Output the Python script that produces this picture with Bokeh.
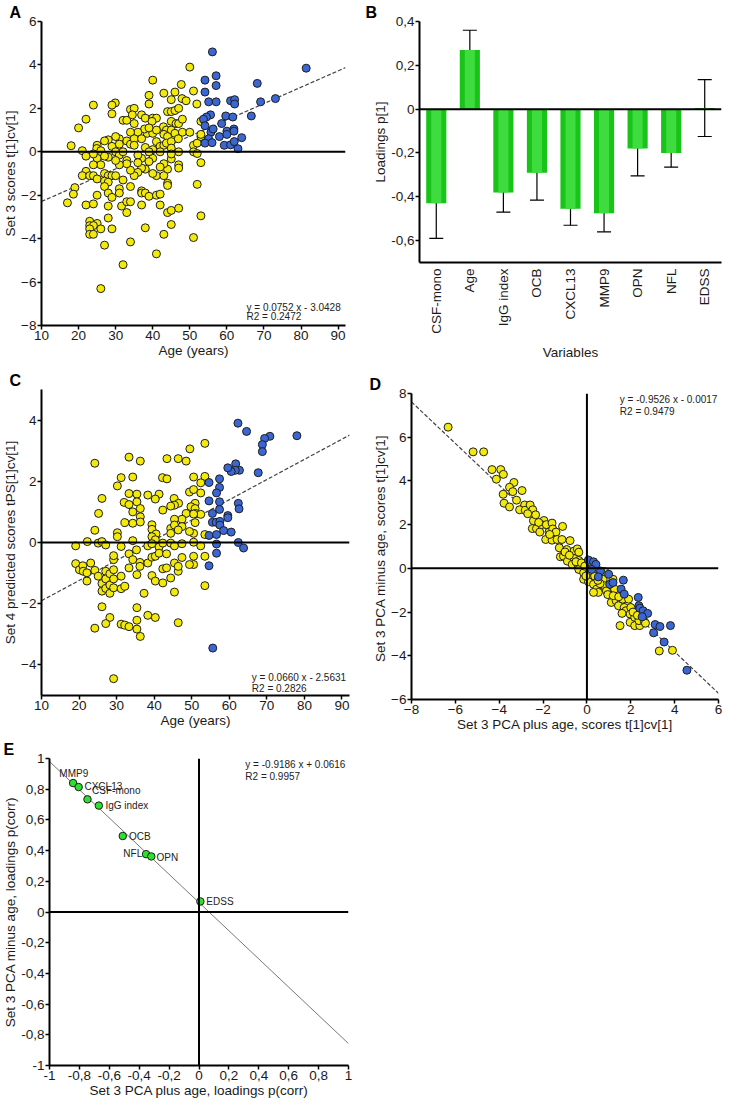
import math
from bokeh.plotting import figure
from bokeh.models import (Range1d, FixedTicker, CustomJSTickFormatter, Span, Label,
                          Whisker, TeeHead, ColumnDataSource)
from bokeh.layouts import column, row
from bokeh.embed import file_html
from bokeh.resources import INLINE

FONT = "Liberation Sans"
YELLOW = "#f3ea0c"
BLUE = "#3a67d3"
GREEN = "#19c419"
GREEN_HI = "#3fdc3f"
GREEN_PT = "#2ee02e"
EDGE = "#1e1e1e"

# ---------------- Panel A: age vs Set 3 scores ----------------
A_YELLOW = [
    (50, 3.9), (40, 3.3), (47.7, 3.1), (43, 2.7), (46, 2.75), (51, 2.8), (39, 2.6), (47.9, 2.45),
    (49, 2.35), (45, 2.4), (51.9, 2.2), (39, 2.2), (29.9, 2.25), (29, 2.15), (24, 2.15), (22, 1.5),
    (20, 1.1), (29, 1.75), (34, 1.95), (35, 2.0), (32, 1.45), (33, 1.45), (34.5, 1.7), (37, 1.7),
    (38, 1.55), (40, 1.55), (41, 1.55), (44, 1.85), (45, 1.85), (46, 1.9), (47, 2.0), (53, 1.4),
    (45, 1.4), (46.3, 1.3), (47, 1.3), (39.8, 1.4), (42.9, 1.15), (43.7, 1.0), (45, 1.0), (46, 0.85),
    (48, 0.9), (43, 0.8), (44, 0.7), (38.5, 0.85), (40, 0.85), (37.8, 1.05), (36, 0.9), (34, 0.9),
    (33, 0.5), (31, 0.6), (30, 0.7), (28, 0.55), (27, 0.5), (25, 0.3), (18, 0.28), (21, 0.05),
    (24.9, 0.15), (26, 0.05), (29, 0.25), (30, 0.0), (31, 0.35), (34, 0.35), (35, 0.6), (37, 0.6),
    (41, 0.47), (42, 0.25), (43, 0.3), (43.7, 0.4), (45, 0.47), (46.9, 0.6), (45, 0.17), (47, 0.0),
    (51, 0.3), (52, 0.4), (53, 0.7), (51, 0.0), (52, -0.08), (53, -0.5), (47, -0.6), (47, -0.75),
    (45, -0.33), (44, -0.8), (43, -0.55), (44, -1.45), (44, -1.55), (41, -1.1), (43, -1.1), (42, 0.0),
    (40, 0.1), (40, -0.3), (39, -0.45), (38, -0.8), (37, -0.75), (37, -0.3), (36, -0.15), (36, -0.95),
    (35, -1.1), (34, -0.85), (33, -0.4), (33, -0.55), (31, -0.15), (31, -0.6), (30, -0.4), (28, -0.25),
    (26, -0.2), (25, -0.3), (24, -0.1), (26, -0.6), (24, -0.6), (22, -0.2), (22, -0.9), (21, -1.1),
    (23, -1.1), (24, -1.1), (25, -1.25), (27, -1.0), (28, -1.1), (29, -1.1), (30, -1.1), (27, -1.35),
    (28, -1.4), (27, -1.6), (28, -1.9), (29, -2.1), (31, -1.7), (31, -1.9), (32, -1.3), (34, -1.6),
    (37, -1.8), (37, -1.9), (38, -1.9), (39, -2.05), (41, -2.0), (42, -1.95), (19, -1.65), (18.6, -1.95),
    (17, -2.35), (22, -2.45), (24, -2.4), (25, -2.0), (28, -2.5), (31.6, -2.5), (33, -2.3), (34, -2.3),
    (37, -2.45), (42, -2.45), (44, -2.8), (45, -2.7), (47, -2.6), (33, -2.8), (28, -3.05), (23, -3.2),
    (23, -3.4), (25, -3.3), (24, -3.4), (23, -3.55), (26, -3.55), (23, -3.8), (24, -3.8), (29, -3.55),
    (38, -3.5), (45, -3.35), (53, -2.95), (52, -1.5), (51, -3.95), (43, -3.8), (34, -4.15), (27, -4.3),
    (41, -4.7), (32, -5.2), (26, -6.3), (35, 0.3), (38, 0.2), (39, 0.0), (36, -0.5), (32, 0.0),
    (27, -0.2), (48, 1.5), (50, 0.9), (53, 0.8), (40, -1.0), (42, -0.7), (45, -0.1), (35, 1.3),
    (41, 1.0), (39, 1.1),
]
A_BLUE = [
    (56.1, 4.6), (54.1, 3.3), (57.1, 3.5), (57.1, 3.05), (54.1, 2.75), (55.1, 2.3), (57.1, 2.3), (61, 2.35),
    (62.1, 2.4), (62.1, 2.2), (68.2, 3.15), (69.1, 2.3), (73.1, 2.45), (81.4, 3.85), (66.6, 1.65),
    (59.7, 1.65), (55.6, 1.7), (54.5, 1.6), (53.7, 1.5), (54.1, 1.2), (58.6, 1.3), (61.6, 1.6),
    (55.7, 0.9), (56.3, 1.05), (60, 0.95), (61.9, 1.05), (61.9, 0.95), (58, 0.7), (55.1, 0.6),
    (54.1, 0.4), (56, 0.42), (59.3, 0.3), (61, 0.32), (62, 0.47), (64, 0.65), (63, 0.14), (60, 0.8),
]
A_FIT = (0.0752, -3.0428)
A_FIT_TEXT = ["y = 0.0752 x - 3.0428", "R2 = 0.2472"]

# ---------------- Panel B: loadings ----------------
B_VARS = ["CSF-mono", "Age", "IgG index", "OCB", "CXCL13", "MMP9", "OPN", "NFL", "EDSS"]
B_LOAD = [-0.43, 0.27, -0.38, -0.29, -0.455, -0.475, -0.18, -0.20, 0.005]
B_LOW = [-0.59, 0.18, -0.47, -0.415, -0.53, -0.56, -0.305, -0.265, -0.125]
B_HIGH = [-0.27, 0.36, -0.295, -0.165, -0.385, -0.395, -0.06, -0.135, 0.135]

# ---------------- Panel C: age vs Set 4 predicted scores ----------------
C_YELLOW = [
    (53.5, 3.24), (49.5, 3.06), (33.3, 2.79), (36.3, 2.66), (43.4, 2.74), (46.4, 2.74), (48.5, 2.66),
    (24.2, 2.59), (31.2, 2.12), (34.3, 2.14), (42.2, 2.12), (43.4, 2.08), (50.5, 2.14), (53.5, 2.16),
    (30.2, 1.85), (52.4, 1.95), (33.3, 1.6), (35.4, 1.58), (38.3, 1.55), (41.3, 1.58), (40.3, 1.42),
    (26.1, 1.44), (49.4, 1.65), (50.5, 1.73), (52.4, 1.62), (45.3, 1.44), (32.0, 1.31), (33.3, 1.24),
    (35.4, 1.33), (46.5, 1.28), (45.4, 1.22), (44.4, 1.19), (50.9, 1.28), (49.8, 1.17), (50.9, 1.11),
    (51.0, 0.95), (52.4, 0.92), (25.2, 0.95), (34.3, 1.0), (36.3, 1.11), (36.3, 0.84), (42.3, 1.06),
    (48.5, 0.95), (50.5, 0.93), (47.4, 0.76), (45.4, 0.76), (32.2, 0.65), (34.3, 0.63), (36.3, 0.67),
    (39.4, 0.58), (39.4, 0.43), (44.4, 0.46), (45.4, 0.57), (47.4, 0.52), (46.4, 0.41), (50.5, 0.3),
    (49.4, 0.36), (53.5, 0.26), (50.9, 0.65), (24.2, 0.4), (30.2, 0.32), (30.2, 0.19), (40.5, 0.28),
    (39.4, 0.19), (40.3, 0.09), (44.4, 0.3), (19.1, -0.11), (22.2, 0.03), (25.1, -0.02), (26.1, 0.03),
    (27.1, -0.08), (31.2, -0.13), (34.3, 0.06), (35.3, -0.24), (38.3, -0.11), (39.4, -0.04), (41.3, -0.15),
    (42.3, -0.02), (44.4, -0.02), (45.4, -0.11), (47.4, -0.04), (50.5, 0.01), (52.4, -0.11), (19.1, -0.69),
    (20.1, -0.89), (21.0, -0.76), (23.1, -0.67), (21.1, -0.94), (22.1, -0.99), (22.1, -1.26), (24.2, -0.91),
    (25.1, -1.10), (26.1, -1.34), (26.1, -1.59), (27.1, -0.94), (27.1, -1.19), (27.1, -1.5), (28.2, -1.02),
    (28.2, -1.39), (28.2, -1.66), (29.2, -1.19), (29.2, -0.89), (29.2, -1.48), (29.2, -0.56), (29.2, -0.43),
    (31.2, -1.10), (31.2, -1.51), (32.2, -1.43), (33.3, -0.37), (33.3, -0.83), (34.3, -0.56), (35.4, -1.05),
    (36.2, -0.65), (36.2, -0.78), (37.3, -1.66), (38.3, -0.67), (39.4, -0.48), (39.4, -1.08), (40.3, -1.26),
    (40.3, -0.45), (41.3, -0.35), (42.3, -0.86), (42.3, -1.32), (43.3, -0.37), (43.3, -0.83), (44.4, -1.16),
    (45.4, -0.67), (46.4, -0.94), (46.4, -0.78), (47.4, -0.49), (50.5, -0.45), (50.5, -0.72), (49.4, -0.72),
    (53.5, -0.45), (53.5, -1.41), (45.4, -1.62), (26.1, -2.10), (28.2, -2.45), (27.1, -2.65), (24.2, -2.8),
    (31.2, -2.67), (32.2, -2.70), (33.3, -2.75), (35.4, -2.83), (35.4, -2.54), (35.4, -2.13), (36.3, -3.07),
    (38.3, -2.38), (40.3, -2.45), (46.4, -2.62), (29.2, -4.45),
]
C_BLUE = [
    (62.3, 3.9), (64.6, 3.63), (78.0, 3.49), (70.8, 3.47), (69.4, 3.4), (68.8, 3.2), (68.8, 2.97),
    (67.7, 2.28), (61.7, 2.57), (62.7, 2.36), (61.6, 2.36), (60.5, 2.32), (59.6, 2.44), (57.4, 2.08),
    (54.6, 1.96), (57.4, 1.8), (56.6, 1.62), (54.6, 1.36), (57.4, 1.33), (62.4, 1.28), (62.6, 1.1),
    (55.5, 0.95), (57.4, 1.08), (59.6, 0.88), (59.6, 0.81), (55.5, 0.66), (56.5, 0.66), (57.5, 0.69),
    (57.5, 0.57), (58.5, 0.39), (60.5, 0.34), (54.6, 0.23), (56.6, 0.26), (56.6, -0.05), (62.4, 0.0),
    (63.8, -0.18), (56.6, -0.35), (54.6, -0.76), (55.6, -3.45),
]
C_FIT = (0.0660, -2.5631)
C_FIT_TEXT = ["y = 0.0660 x - 2.5631", "R2 = 0.2826"]

# ---------------- Panel D: PCA plus age vs minus age scores ----------------
D_YELLOW = [
    (-6.33, 6.46), (-5.19, 5.33), (-4.71, 5.33), (-4.33, 4.52), (-3.93, 4.52), (-3.81, 4.30), (-4.13, 4.08),
    (-3.33, 3.93), (-3.53, 3.71), (-3.82, 3.39), (-3.78, 2.98), (-3.53, 2.81), (-3.21, 3.12), (-3.38, 3.51),
    (-2.96, 3.56), (-2.84, 2.90), (-3.07, 2.68), (-2.81, 2.65), (-2.59, 2.90), (-2.47, 2.68), (-2.44, 2.18),
    (-2.34, 2.45), (-2.49, 1.82), (-2.30, 1.82), (-2.15, 1.66), (-1.96, 2.19), (-2.07, 2.00), (-1.85, 2.00),
    (-1.73, 1.66), (-1.88, 1.32), (-1.59, 2.07), (-1.56, 1.80), (-1.41, 1.66), (-1.11, 1.92), (-1.59, 1.29),
    (-1.36, 1.32), (-1.14, 1.32), (-0.77, 1.27), (-1.26, 0.94), (-0.92, 0.86), (-1.21, 0.53), (-1.07, 0.56),
    (-0.89, 0.33), (-0.59, 0.79), (-0.44, 0.89), (-0.37, 0.74), (-0.59, 0.45), (-0.37, 0.36), (-0.67, 0.18),
    (-0.40, 0.15), (-0.22, 0.03), (0.04, 0.30), (-0.37, -0.05), (-0.15, -0.20), (0.07, -0.27), (0.22, -0.42),
    (-0.15, -0.50), (0.07, -0.61), (0.30, -0.73), (0.44, -0.95), (0.52, -1.10), (0.30, -1.10), (0.74, -0.50),
    (0.81, -0.80), (0.89, -1.03), (1.08, -0.73), (1.19, -0.50), (1.26, -0.95), (1.11, -1.56), (1.33, -1.48),
    (1.56, -1.56), (1.63, -1.41), (1.44, -1.71), (1.70, -1.79), (1.90, -1.41), (1.78, -1.94), (1.60, -2.06),
    (2.00, -1.79), (1.97, -2.09), (1.51, -2.62), (1.97, -2.47), (2.18, -2.24), (2.18, -2.62), (2.41, -2.62),
    (2.37, -2.39), (2.62, -2.44), (2.67, -2.51), (3.30, -3.78), (3.90, -3.75), (0.81, -0.15),
    (-2.7, 2.5), (-2.2, 2.1), (-1.7, 1.55), (-1.0, 0.75), (-0.8, 0.6), (-0.5, 0.3), (-0.25, 0.25),
    (0.15, -0.1), (0.35, -0.35), (0.6, -0.7), (0.95, -1.2), (1.2, -1.25), (1.45, -1.3), (2.1, -2.0),
    (2.3, -2.15), (-0.05, -0.35), (-0.1, 0.1), (0.5, -0.55),
]
D_BLUE = [
    (0.07, 0.38), (0.30, 0.30), (0.41, 0.18), (0.62, -0.12), (0.99, -0.27), (1.04, -0.73), (1.19, -0.65),
    (1.66, -0.54), (1.56, -0.95), (1.70, -1.18), (2.34, -1.33), (2.37, -1.71), (2.41, -1.82), (2.56, -1.94),
    (2.77, -2.06), (2.52, -2.21), (3.11, -2.57), (3.33, -2.66), (3.81, -2.62), (3.04, -2.95), (3.52, -3.37),
    (4.56, -4.66), (0.52, -0.39), (0.22, -0.05),
]
D_FIT = (-0.9526, -0.0017)
D_FIT_TEXT = ["y = -0.9526 x - 0.0017", "R2 = 0.9479"]

# ---------------- Panel E: loadings p(corr) ----------------
E_VARS = ["MMP9", "CXCL13", "CSF-mono", "IgG index", "OCB", "NFL", "OPN", "EDSS"]
E_PLUS = [-0.842, -0.805, -0.746, -0.670, -0.510, -0.354, -0.319, 0.009]
E_MINUS = [0.840, 0.814, 0.734, 0.693, 0.495, 0.377, 0.362, 0.069]
E_LABEL_X = [-0.934, -0.766, -0.715, -0.626, -0.468, -0.380, -0.284, 0.049]
E_LABEL_Y = [0.904, 0.816, 0.792, 0.693, 0.494, 0.379, 0.357, 0.069]
E_LABEL_ALIGN = ["left", "left", "left", "left", "left", "right", "left", "left"]
E_FIT = (-0.9186, 0.0616)
E_FIT_TEXT = ["y = -0.9186 x + 0.0616", "R2 = 0.9957"]

COMMA_FMT = CustomJSTickFormatter(code="""
    const v = Math.round(tick * 10) / 10;
    if (v === 0) return "0";
    if (Number.isInteger(v)) return String(v);
    return v.toFixed(1).replace(".", ",");
""")

TICK_FS = "13.5px"
TITLE_FS = "13.5px"


def style(p):
    p.outline_line_color = None
    p.grid.visible = False
    p.background_fill_color = "white"
    p.border_fill_color = "white"
    for ax in p.axis:
        ax.axis_line_width = 2
        ax.axis_line_color = "black"
        ax.major_tick_line_width = 1.5
        ax.major_tick_line_color = "black"
        ax.major_tick_out = 4
        ax.major_tick_in = 0
        ax.minor_tick_line_color = None
        ax.major_label_text_font = FONT
        ax.major_label_text_font_size = TICK_FS
        ax.major_label_text_color = "#1a1a1a"
        ax.axis_label_text_font = FONT
        ax.axis_label_text_font_size = TITLE_FS
        ax.axis_label_text_font_style = "normal"
        ax.axis_label_text_color = "#1a1a1a"
        ax.major_label_standoff = 1
        ax.axis_label_standoff = 0


def make_fig(w, h, xr, yr, borders, tag, tag_offset):
    l, r, t, b = borders
    p = figure(width=w, height=h, x_range=xr, y_range=yr, output_backend="svg",
               toolbar_location=None, min_border_left=l, min_border_right=r,
               min_border_top=t, min_border_bottom=b)
    style(p)
    p.title.text = tag
    p.title.text_font = FONT
    p.title.text_font_size = "16px"
    p.title.text_font_style = "bold"
    p.title.text_color = "black"
    p.title.align = "left"
    p.title.offset = tag_offset
    p.title.standoff = 2
    return p


def fit_text(p, lines, x, y, dy):
    for i, t in enumerate(lines):
        p.add_layout(Label(x=x, y=y - i * dy, text=t, text_font=FONT, text_font_size="10px",
                           text_baseline="middle", text_align="left", text_color="#222"))


def fit_line(p, coef, x0, x1, dash="4 2", width=1.2, color="#444"):
    s, c = coef
    p.line([x0, x1], [s * x0 + c, s * x1 + c], line_color=color, line_width=width, line_dash=dash)


def scatter_pts(p, pts, color, size=8):
    xs = [a for a, _ in pts]
    ys = [b for _, b in pts]
    p.scatter(xs, ys, size=size, fill_color=color, line_color=EDGE, line_width=1)


LW, RW = 357, 367

# Panel A
pA = make_fig(LW, 362, Range1d(10, 92), Range1d(-8, 6), (29, 12, 17, 37), "A", -32)
pA.xaxis.ticker = FixedTicker(ticks=list(range(10, 91, 10)))
pA.yaxis.ticker = FixedTicker(ticks=list(range(-8, 7, 2)))
pA.xaxis.axis_label = "Age (years)"
pA.yaxis.axis_label = "Set 3 scores t[1]cv[1]"
pA.add_layout(Span(location=0, dimension="width", line_color="black", line_width=2))
fit_line(pA, A_FIT, 10, 92)
scatter_pts(pA, A_YELLOW, YELLOW)
scatter_pts(pA, A_BLUE, BLUE)
fit_text(pA, A_FIT_TEXT, 65.3, -7.18, 0.41)

# Panel B
pB = make_fig(RW, 362, B_VARS, Range1d(-0.7, 0.4), (62, 3, 18, 93), "B", -54)
pB.yaxis.ticker = FixedTicker(ticks=[-0.6, -0.4, -0.2, 0, 0.2, 0.4])
pB.yaxis.formatter = COMMA_FMT
pB.xaxis.major_label_orientation = math.pi / 2
pB.xaxis.major_tick_out = 0
pB.xaxis.major_label_standoff = 6
pB.xaxis.axis_label_standoff = 8
pB.xaxis.axis_label = "Variables"
pB.yaxis.axis_label = "Loadings p[1]"
pB.vbar(x=B_VARS, top=B_LOAD, width=0.6, fill_color=GREEN, line_color=None)
pB.vbar(x=B_VARS, top=B_LOAD, width=0.3, fill_color=GREEN_HI, line_color=None)
srcB = ColumnDataSource(dict(x=B_VARS, lo=B_LOW, hi=B_HIGH))
pB.add_layout(Whisker(base="x", lower="lo", upper="hi", source=srcB, line_color="black",
                      line_width=1.2,
                      upper_head=TeeHead(size=14, line_color="black", line_width=1.2),
                      lower_head=TeeHead(size=14, line_color="black", line_width=1.2)))
pB.add_layout(Span(location=0, dimension="width", line_color="black", line_width=2))

# Panel C
pC = make_fig(LW, 372, Range1d(10, 92), Range1d(-5, 5), (32, 8, 27, 39), "C", -32)
pC.xaxis.ticker = FixedTicker(ticks=list(range(10, 91, 10)))
pC.yaxis.ticker = FixedTicker(ticks=[-4, -2, 0, 2, 4])
pC.xaxis.axis_label = "Age (years)"
pC.yaxis.axis_label = "Set 4 predicted scores tPS[1]cv[1]"
pC.add_layout(Span(location=0, dimension="width", line_color="black", line_width=2))
fit_line(pC, C_FIT, 10, 92)
scatter_pts(pC, C_YELLOW, YELLOW)
scatter_pts(pC, C_BLUE, BLUE)
fit_text(pC, C_FIT_TEXT, 66.0, -4.4, 0.38)

# Panel D
pD = make_fig(RW, 372, Range1d(-8, 6), Range1d(-6, 8), (54, 6, 31, 32), "D", -42)
pD.xaxis.ticker = FixedTicker(ticks=list(range(-8, 7, 2)))
pD.yaxis.ticker = FixedTicker(ticks=list(range(-6, 9, 2)))
pD.xaxis.axis_label = "Set 3 PCA plus age, scores t[1]cv[1]"
pD.yaxis.axis_label = "Set 3 PCA  minus age, scores t[1]cv[1]"
pD.add_layout(Span(location=0, dimension="width", line_color="black", line_width=2))
pD.add_layout(Span(location=0, dimension="height", line_color="black", line_width=2))
fit_line(pD, D_FIT, -8, 6)
scatter_pts(pD, D_YELLOW, YELLOW)
scatter_pts(pD, D_BLUE, BLUE)
fit_text(pD, D_FIT_TEXT, 1.5, 7.72, 0.55)

# Panel E
pE = make_fig(LW, 366, Range1d(-1, 1), Range1d(-1, 1), (44, 9, 24, 34), "E", -46)
eticks = [round(-1 + 0.2 * i, 1) for i in range(11)]
pE.xaxis.ticker = FixedTicker(ticks=eticks)
pE.yaxis.ticker = FixedTicker(ticks=eticks)
pE.xaxis.formatter = COMMA_FMT
pE.yaxis.formatter = COMMA_FMT
pE.xaxis.axis_label = "Set 3 PCA plus age, loadings p(corr)"
pE.yaxis.axis_label = "Set 3 PCA minus age, loadings p(corr)"
pE.add_layout(Span(location=0, dimension="width", line_color="black", line_width=2))
pE.add_layout(Span(location=0, dimension="height", line_color="black", line_width=2))
fit_line(pE, E_FIT, -1, 1, dash="solid", width=0.8, color="#555")
pE.scatter(E_PLUS, E_MINUS, size=7.5, fill_color=GREEN_PT, line_color=EDGE, line_width=1)
for lx, ly, t, al in zip(E_LABEL_X, E_LABEL_Y, E_VARS, E_LABEL_ALIGN):
    pE.add_layout(Label(x=lx, y=ly, text=t, text_font=FONT, text_font_size="10px",
                        text_baseline="middle", text_align=al, text_color="#222"))
fit_text(pE, E_FIT_TEXT, 0.31, 0.963, 0.08)

layout = column(row(column(pA), column(pB)), row(column(pC), column(pD)), row(column(pE)))
open("out.html", "w").write(file_html(layout, INLINE))
